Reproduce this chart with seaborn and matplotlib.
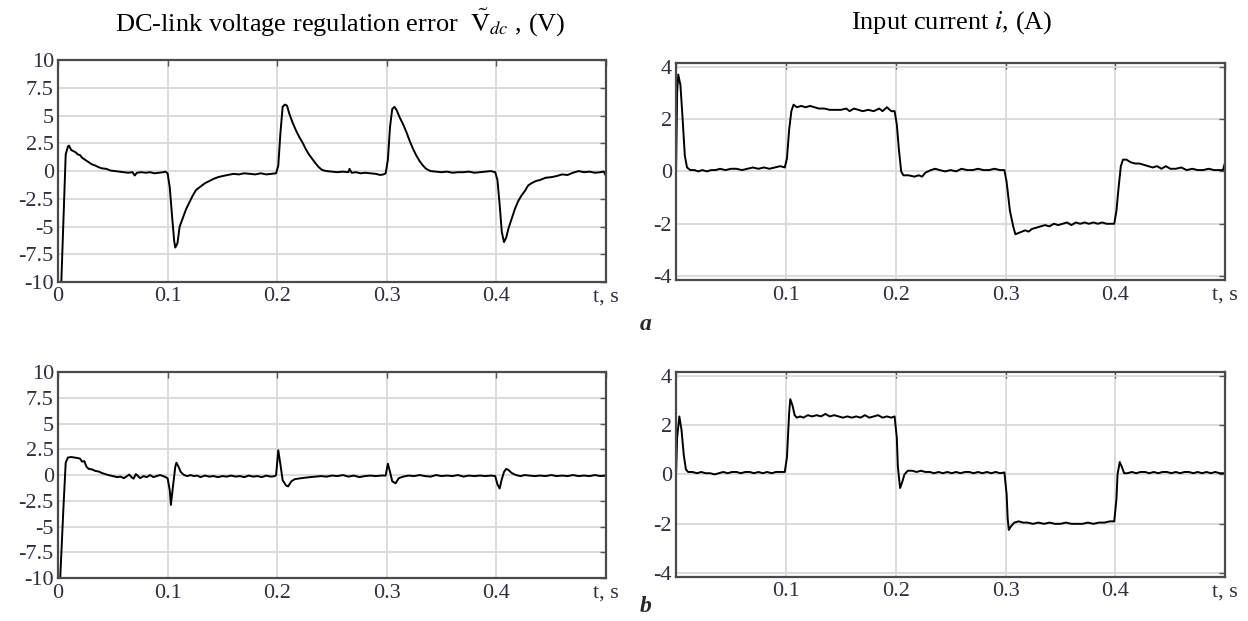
import matplotlib
matplotlib.use("Agg")
import matplotlib.pyplot as plt
import seaborn as sns
import pandas as pd

sns.set_theme(style="whitegrid")
plt.rcParams["font.family"] = ["Liberation Serif", "DejaVu Serif"]
plt.rcParams["mathtext.fontset"] = "stix"

# --- (a) DC-link voltage regulation error, V ---
T_VA = [0.000, 0.003, 0.007, 0.009, 0.010, 0.012, 0.014, 0.016, 0.018, 0.020, 0.022, 0.025,
        0.028, 0.031, 0.034, 0.037, 0.040, 0.044, 0.048, 0.052, 0.056, 0.060, 0.064, 0.068,
        0.070, 0.072, 0.076, 0.080, 0.084, 0.088, 0.092, 0.096, 0.098, 0.100, 0.102, 0.104,
        0.106, 0.107, 0.109, 0.111, 0.114, 0.117, 0.120, 0.123, 0.126, 0.130, 0.134, 0.138,
        0.142, 0.146, 0.150, 0.155, 0.160, 0.165, 0.170, 0.175, 0.180, 0.185, 0.190, 0.195,
        0.199, 0.201, 0.203, 0.205, 0.207, 0.209, 0.211, 0.214, 0.217, 0.220, 0.223, 0.226,
        0.229, 0.232, 0.235, 0.238, 0.241, 0.245, 0.250, 0.255, 0.260, 0.265, 0.266, 0.268,
        0.272, 0.276, 0.280, 0.285, 0.290, 0.294, 0.297, 0.299, 0.301, 0.303, 0.305, 0.307,
        0.309, 0.312, 0.315, 0.318, 0.321, 0.324, 0.327, 0.330, 0.333, 0.336, 0.340, 0.345,
        0.350, 0.355, 0.360, 0.365, 0.370, 0.375, 0.380, 0.385, 0.390, 0.395, 0.399, 0.401,
        0.403, 0.405, 0.407, 0.409, 0.411, 0.414, 0.417, 0.420, 0.423, 0.426, 0.429, 0.432,
        0.436, 0.440, 0.445, 0.450, 0.455, 0.460, 0.465, 0.470, 0.475, 0.480, 0.485, 0.490,
        0.495, 0.498, 0.500]
V_A = [-10.0, -10.0, 1.5, 2.2, 2.3, 1.9, 1.8, 1.7, 1.5, 1.45, 1.2, 1.0,
       0.8, 0.6, 0.5, 0.35, 0.25, 0.2, 0.05, 0.0, -0.05, -0.1, -0.15, -0.1,
       -0.4, -0.15, -0.1, -0.15, -0.1, -0.2, -0.15, -0.1, -0.05, -0.2, -1.5, -4.0,
       -6.3, -6.9, -6.5, -5.0, -4.2, -3.4, -2.8, -2.2, -1.7, -1.4, -1.1, -0.9,
       -0.7, -0.55, -0.45, -0.35, -0.25, -0.3, -0.2, -0.25, -0.3, -0.2, -0.3, -0.25,
       -0.2, 0.5, 3.5, 5.8, 6.0, 5.9, 5.2, 4.4, 3.7, 3.1, 2.6, 2.0,
       1.5, 1.1, 0.7, 0.35, 0.1, 0.0, -0.05, -0.1, -0.05, -0.1, 0.2, -0.15,
       -0.1, -0.2, -0.15, -0.2, -0.25, -0.35, -0.3, -0.2, 1.0, 4.0, 5.6, 5.8,
       5.5, 4.8, 4.2, 3.5, 2.7, 2.0, 1.4, 0.9, 0.5, 0.2, 0.0, -0.05,
       -0.1, -0.05, -0.15, -0.1, -0.1, -0.05, -0.15, -0.1, -0.05, 0.0, -0.1, -0.8,
       -3.0, -5.5, -6.4, -6.0, -5.2, -4.3, -3.4, -2.7, -2.2, -1.8, -1.3, -1.1,
       -0.9, -0.8, -0.6, -0.55, -0.45, -0.3, -0.35, -0.15, 0.0, -0.1, -0.05, -0.15,
       -0.1, -0.05, -0.4]

# --- (a) input current, A ---
T_IA = [0.000, 0.001, 0.002, 0.004, 0.006, 0.008, 0.010, 0.013, 0.017, 0.020, 0.024, 0.028,
        0.032, 0.036, 0.040, 0.045, 0.050, 0.055, 0.060, 0.065, 0.070, 0.075, 0.080, 0.085,
        0.090, 0.095, 0.099, 0.101, 0.103, 0.105, 0.107, 0.110, 0.114, 0.118, 0.122, 0.126,
        0.130, 0.135, 0.140, 0.145, 0.150, 0.155, 0.158, 0.162, 0.166, 0.170, 0.175, 0.180,
        0.185, 0.188, 0.192, 0.196, 0.199, 0.201, 0.203, 0.205, 0.207, 0.212, 0.217, 0.221,
        0.224, 0.227, 0.232, 0.236, 0.240, 0.245, 0.250, 0.255, 0.260, 0.265, 0.270, 0.275,
        0.280, 0.285, 0.290, 0.295, 0.299, 0.301, 0.304, 0.307, 0.309, 0.312, 0.315, 0.318,
        0.321, 0.324, 0.328, 0.332, 0.336, 0.340, 0.344, 0.348, 0.352, 0.356, 0.360, 0.364,
        0.368, 0.372, 0.376, 0.380, 0.384, 0.388, 0.392, 0.396, 0.399, 0.401, 0.403, 0.405,
        0.407, 0.410, 0.414, 0.418, 0.422, 0.426, 0.430, 0.434, 0.438, 0.442, 0.446, 0.450,
        0.455, 0.460, 0.465, 0.470, 0.475, 0.480, 0.485, 0.490, 0.495, 0.498, 0.500]
I_A = [0.0, 3.0, 3.7, 3.3, 2.0, 0.6, 0.15, 0.05, 0.05, 0.0, 0.05, 0.0,
       0.05, 0.05, 0.1, 0.05, 0.1, 0.1, 0.05, 0.1, 0.15, 0.1, 0.15, 0.1,
       0.15, 0.2, 0.15, 0.5, 1.6, 2.3, 2.55, 2.45, 2.5, 2.45, 2.5, 2.45,
       2.4, 2.4, 2.35, 2.35, 2.35, 2.4, 2.3, 2.4, 2.35, 2.3, 2.35, 2.3,
       2.4, 2.3, 2.45, 2.3, 2.3, 1.8, 0.8, 0.0, -0.15, -0.15, -0.2, -0.15,
       -0.2, -0.05, 0.05, 0.1, 0.05, 0.0, 0.05, 0.0, 0.1, 0.05, 0.05, 0.1,
       0.05, 0.05, 0.1, 0.05, 0.05, -0.4, -1.5, -2.1, -2.4, -2.35, -2.3, -2.25,
       -2.3, -2.2, -2.15, -2.1, -2.05, -2.1, -2.0, -2.05, -2.0, -1.95, -2.05, -1.95,
       -2.0, -1.95, -2.0, -1.95, -2.0, -1.95, -2.0, -2.0, -2.0, -1.5, -0.6, 0.2,
       0.45, 0.45, 0.35, 0.3, 0.3, 0.25, 0.2, 0.15, 0.2, 0.1, 0.2, 0.1,
       0.1, 0.15, 0.05, 0.1, 0.05, 0.05, 0.1, 0.05, 0.05, 0.05, 0.35]

# --- (b) DC-link voltage regulation error, V ---
T_VB = [0.000, 0.002, 0.005, 0.007, 0.009, 0.012, 0.015, 0.018, 0.020, 0.022, 0.024, 0.026,
        0.028, 0.031, 0.034, 0.037, 0.040, 0.043, 0.046, 0.050, 0.054, 0.057, 0.060, 0.063,
        0.065, 0.067, 0.069, 0.071, 0.073, 0.075, 0.078, 0.081, 0.084, 0.087, 0.090, 0.093,
        0.096, 0.098, 0.100, 0.102, 0.103, 0.105, 0.107, 0.108, 0.110, 0.112, 0.115, 0.118,
        0.121, 0.124, 0.127, 0.130, 0.134, 0.138, 0.142, 0.146, 0.150, 0.154, 0.158, 0.162,
        0.166, 0.170, 0.174, 0.178, 0.182, 0.186, 0.190, 0.194, 0.198, 0.199, 0.201, 0.203,
        0.205, 0.208, 0.210, 0.213, 0.216, 0.219, 0.222, 0.226, 0.230, 0.235, 0.240, 0.245,
        0.250, 0.255, 0.260, 0.265, 0.270, 0.275, 0.280, 0.285, 0.290, 0.295, 0.299, 0.301,
        0.303, 0.305, 0.308, 0.311, 0.315, 0.320, 0.325, 0.330, 0.335, 0.340, 0.345, 0.350,
        0.355, 0.360, 0.365, 0.370, 0.375, 0.380, 0.385, 0.390, 0.395, 0.399, 0.401, 0.403,
        0.405, 0.407, 0.409, 0.411, 0.414, 0.418, 0.422, 0.426, 0.430, 0.435, 0.440, 0.445,
        0.450, 0.455, 0.460, 0.465, 0.470, 0.475, 0.480, 0.485, 0.490, 0.495, 0.500]
V_B = [-10.0, -10.0, -3.0, 1.2, 1.7, 1.75, 1.7, 1.65, 1.6, 1.3, 1.35, 0.8,
       0.6, 0.55, 0.4, 0.35, 0.2, 0.1, 0.0, -0.1, -0.2, -0.15, -0.3, -0.1,
       0.05, -0.2, -0.35, 0.1, -0.1, -0.3, -0.1, -0.2, 0.0, -0.2, -0.1, 0.0,
       -0.1, -0.2, -0.3, -1.5, -2.9, -1.0, 0.8, 1.2, 0.8, 0.3, 0.0, -0.1,
       0.0, -0.1, -0.05, -0.2, -0.05, -0.15, -0.1, -0.2, -0.1, -0.15, -0.05, -0.15,
       -0.1, -0.2, -0.05, -0.15, -0.1, -0.2, -0.05, -0.15, -0.1, 0.0, 2.4, 1.0,
       -0.5, -1.0, -1.1, -0.6, -0.4, -0.35, -0.3, -0.25, -0.2, -0.15, -0.1, -0.15,
       -0.05, -0.1, 0.0, -0.15, -0.05, -0.2, -0.1, -0.05, -0.1, -0.05, -0.05, 1.1,
       0.3, -0.6, -0.8, -0.3, -0.15, -0.05, -0.1, 0.0, -0.1, -0.15, 0.0, -0.1,
       -0.05, -0.1, 0.0, -0.15, -0.05, -0.1, -0.05, -0.1, -0.05, -0.1, -0.9, -1.3,
       -0.4, 0.3, 0.6, 0.5, 0.2, 0.0, -0.1, 0.0, -0.05, -0.1, -0.05, -0.1,
       0.0, -0.1, -0.05, -0.1, 0.0, -0.1, -0.05, -0.1, 0.0, -0.1, -0.05]

# --- (b) input current, A ---
T_IB = [0.000, 0.001, 0.003, 0.005, 0.007, 0.009, 0.011, 0.015, 0.019, 0.023, 0.027, 0.031,
        0.035, 0.039, 0.043, 0.047, 0.051, 0.055, 0.059, 0.063, 0.067, 0.071, 0.075, 0.079,
        0.083, 0.087, 0.091, 0.095, 0.099, 0.101, 0.103, 0.104, 0.106, 0.108, 0.110, 0.113,
        0.116, 0.120, 0.124, 0.128, 0.132, 0.136, 0.140, 0.144, 0.148, 0.152, 0.156, 0.160,
        0.164, 0.168, 0.172, 0.176, 0.180, 0.184, 0.188, 0.192, 0.196, 0.199, 0.201, 0.202,
        0.204, 0.206, 0.208, 0.211, 0.215, 0.219, 0.223, 0.227, 0.231, 0.235, 0.239, 0.243,
        0.247, 0.251, 0.255, 0.259, 0.263, 0.267, 0.271, 0.275, 0.279, 0.283, 0.287, 0.291,
        0.295, 0.299, 0.301, 0.302, 0.303, 0.305, 0.308, 0.312, 0.316, 0.320, 0.325, 0.330,
        0.335, 0.340, 0.345, 0.350, 0.355, 0.360, 0.365, 0.370, 0.375, 0.380, 0.385, 0.390,
        0.395, 0.399, 0.401, 0.402, 0.404, 0.406, 0.408, 0.411, 0.415, 0.419, 0.423, 0.427,
        0.431, 0.435, 0.439, 0.443, 0.447, 0.451, 0.455, 0.459, 0.463, 0.467, 0.471, 0.475,
        0.479, 0.483, 0.487, 0.491, 0.495, 0.500]
I_B = [0.0, 1.5, 2.35, 1.8, 0.8, 0.2, 0.1, 0.1, 0.05, 0.1, 0.05, 0.05,
       0.0, 0.05, 0.1, 0.05, 0.1, 0.1, 0.05, 0.1, 0.1, 0.05, 0.1, 0.05,
       0.1, 0.05, 0.1, 0.1, 0.1, 0.7, 2.5, 3.05, 2.8, 2.4, 2.3, 2.35,
       2.3, 2.4, 2.35, 2.4, 2.35, 2.45, 2.35, 2.4, 2.35, 2.3, 2.35, 2.3,
       2.35, 2.3, 2.4, 2.3, 2.35, 2.4, 2.3, 2.35, 2.3, 2.35, 1.5, 0.3,
       -0.55, -0.3, 0.0, 0.15, 0.15, 0.1, 0.15, 0.1, 0.1, 0.05, 0.1, 0.05,
       0.1, 0.05, 0.1, 0.05, 0.1, 0.1, 0.05, 0.1, 0.05, 0.1, 0.05, 0.1,
       0.05, 0.08, -0.8, -1.8, -2.25, -2.1, -1.95, -1.9, -1.95, -1.95, -2.0, -1.95,
       -2.0, -1.95, -2.0, -2.0, -1.95, -2.0, -2.0, -2.0, -1.95, -2.0, -1.95, -1.95,
       -1.9, -1.9, -1.0, 0.0, 0.5, 0.3, 0.05, 0.05, 0.1, 0.05, 0.1, 0.1,
       0.05, 0.1, 0.05, 0.1, 0.1, 0.05, 0.1, 0.05, 0.1, 0.1, 0.05, 0.1,
       0.05, 0.1, 0.05, 0.1, 0.05, 0.05]

X_TICKS = [0, 0.1, 0.2, 0.3, 0.4, 0.5]
X_LABELS_LEFT = ["0", "0.1", "0.2", "0.3", "0.4", "t, s"]
X_LABELS_RIGHT = ["", "0.1", "0.2", "0.3", "0.4", "t, s"]
V_TICKS = [-10, -7.5, -5, -2.5, 0, 2.5, 5, 7.5, 10]
V_LABELS = ["-10", "-7.5", "-5", "-2.5", "0", "2.5", "5", "7.5", "10"]
I_TICKS = [-4, -2, 0, 2, 4]
I_LABELS = ["-4", "-2", "0", "2", "4"]


def draw(ax, t, y, ylim, yticks, ylabels, xlabels):
    df = pd.DataFrame({"t": t, "y": y})
    sns.lineplot(data=df, x="t", y="y", ax=ax, color="black", linewidth=1.4)
    ax.set_xlim(0, 0.5)
    ax.set_ylim(*ylim)
    ax.set_xticks(X_TICKS)
    ax.set_xticklabels(xlabels)
    ax.set_yticks(yticks)
    ax.set_yticklabels(ylabels)
    ax.set_xlabel("")
    ax.set_ylabel("")
    ax.set_facecolor("white")
    ax.grid(True, color="#d9d9d9", linewidth=1.3)
    ax.tick_params(direction="in", length=4, width=1, top=True, right=True,
                   labelsize=16, color="#555555", labelcolor="#2f2f3f", pad=4)
    ax.tick_params(axis="y", pad=3)
    for sp in ax.spines.values():
        sp.set_color("#4a4a4a")
        sp.set_linewidth(1.6)


fig = plt.figure(figsize=(12.48, 6.21), dpi=100)
ax_va = fig.add_axes([0.0465, 0.546, 0.439, 0.357])
ax_ia = fig.add_axes([0.5417, 0.549, 0.440, 0.350])
ax_vb = fig.add_axes([0.0465, 0.069, 0.439, 0.332])
ax_ib = fig.add_axes([0.5417, 0.071, 0.440, 0.330])

draw(ax_va, T_VA, V_A, (-10, 10), V_TICKS, V_LABELS, X_LABELS_LEFT)
draw(ax_ia, T_IA, I_A, (-4.15, 4.15), I_TICKS, I_LABELS, X_LABELS_RIGHT)
draw(ax_vb, T_VB, V_B, (-10, 10), V_TICKS, V_LABELS, X_LABELS_LEFT)
draw(ax_ib, T_IB, I_B, (-4.15, 4.15), I_TICKS, I_LABELS, X_LABELS_RIGHT)

fig.text(0.273, 0.963, "DC-link voltage regulation error  $\\tilde{\\mathrm{V}}_{dc}$ , (V)",
         ha="center", va="center", fontsize=19, color="black")
fig.text(0.763, 0.963, "Input current $i$, (A)",
         ha="center", va="center", fontsize=19, color="black")
fig.text(0.517, 0.477, "a", ha="center", va="center", fontsize=17,
         fontweight="bold", fontstyle="italic")
fig.text(0.517, 0.024, "b", ha="center", va="center", fontsize=17,
         fontweight="bold", fontstyle="italic")

fig.savefig("out.png", dpi=100)
plt.close(fig)
